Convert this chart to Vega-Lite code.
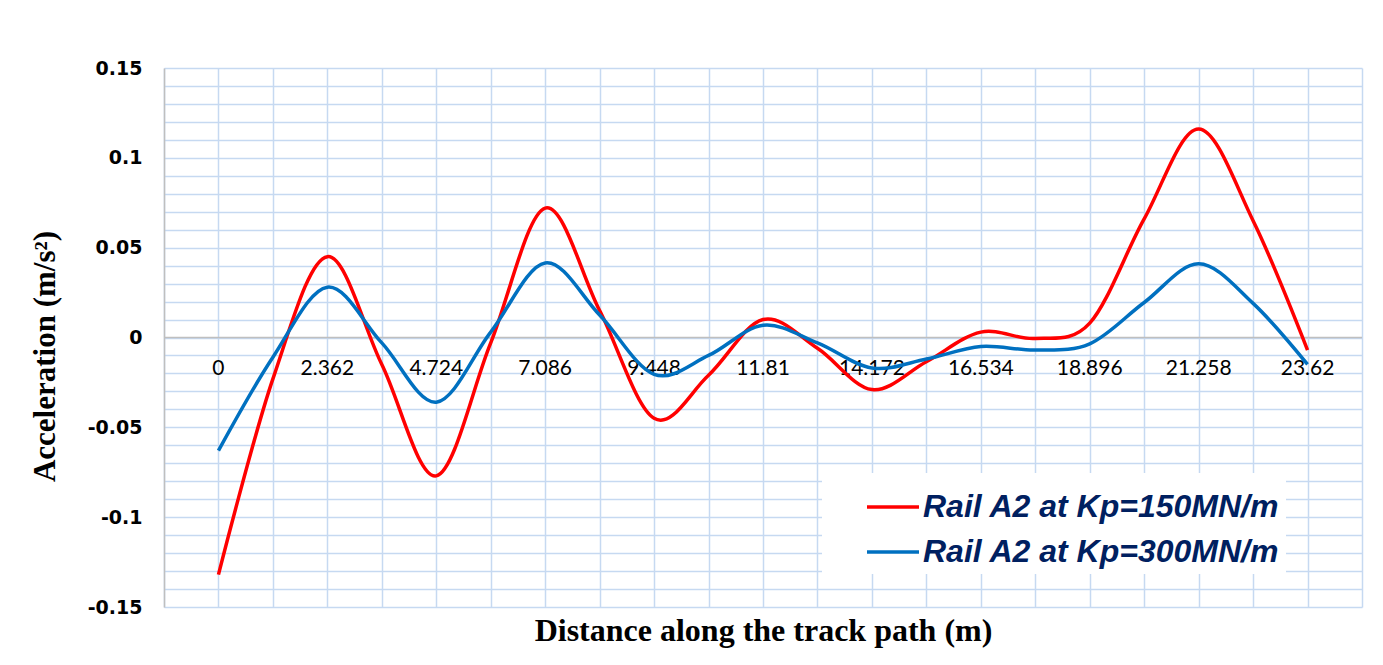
{
  "$schema": "https://vega.github.io/schema/vega-lite/v6.json",
  "autosize": {"type": "none"},
  "width": 1198,
  "height": 539,
  "padding": {"left": 164, "top": 68, "right": 21, "bottom": 58},
  "background": "white",
  "config": {"view": {"stroke": null}},
  "resolve": {"axis": {"x": "independent", "y": "independent"}},
  "datasets": {
    "series": [
      {"x": 0, "a": -0.132, "s": "Rail A2 at Kp=150MN/m"},
      {"x": 1.181, "a": -0.023, "s": "Rail A2 at Kp=150MN/m"},
      {"x": 2.362, "a": 0.045, "s": "Rail A2 at Kp=150MN/m"},
      {"x": 3.543, "a": -0.015, "s": "Rail A2 at Kp=150MN/m"},
      {"x": 4.724, "a": -0.077, "s": "Rail A2 at Kp=150MN/m"},
      {"x": 5.905, "a": -0.003, "s": "Rail A2 at Kp=150MN/m"},
      {"x": 7.086, "a": 0.072, "s": "Rail A2 at Kp=150MN/m"},
      {"x": 8.267, "a": 0.015, "s": "Rail A2 at Kp=150MN/m"},
      {"x": 9.448, "a": -0.045, "s": "Rail A2 at Kp=150MN/m"},
      {"x": 10.629, "a": -0.021, "s": "Rail A2 at Kp=150MN/m"},
      {"x": 11.81, "a": 0.010, "s": "Rail A2 at Kp=150MN/m"},
      {"x": 12.991, "a": -0.006, "s": "Rail A2 at Kp=150MN/m"},
      {"x": 14.172, "a": -0.029, "s": "Rail A2 at Kp=150MN/m"},
      {"x": 15.353, "a": -0.0135, "s": "Rail A2 at Kp=150MN/m"},
      {"x": 16.534, "a": 0.003, "s": "Rail A2 at Kp=150MN/m"},
      {"x": 17.715, "a": -0.0005, "s": "Rail A2 at Kp=150MN/m"},
      {"x": 18.896, "a": 0.008, "s": "Rail A2 at Kp=150MN/m"},
      {"x": 20.077, "a": 0.066, "s": "Rail A2 at Kp=150MN/m"},
      {"x": 21.258, "a": 0.116, "s": "Rail A2 at Kp=150MN/m"},
      {"x": 22.439, "a": 0.065, "s": "Rail A2 at Kp=150MN/m"},
      {"x": 23.62, "a": -0.007, "s": "Rail A2 at Kp=150MN/m"},
      {"x": 0, "a": -0.063, "s": "Rail A2 at Kp=300MN/m"},
      {"x": 1.181, "a": -0.011, "s": "Rail A2 at Kp=300MN/m"},
      {"x": 2.362, "a": 0.028, "s": "Rail A2 at Kp=300MN/m"},
      {"x": 3.543, "a": -0.003, "s": "Rail A2 at Kp=300MN/m"},
      {"x": 4.724, "a": -0.036, "s": "Rail A2 at Kp=300MN/m"},
      {"x": 5.905, "a": 0.003, "s": "Rail A2 at Kp=300MN/m"},
      {"x": 7.086, "a": 0.0415, "s": "Rail A2 at Kp=300MN/m"},
      {"x": 8.267, "a": 0.0125, "s": "Rail A2 at Kp=300MN/m"},
      {"x": 9.448, "a": -0.0205, "s": "Rail A2 at Kp=300MN/m"},
      {"x": 10.629, "a": -0.010, "s": "Rail A2 at Kp=300MN/m"},
      {"x": 11.81, "a": 0.0068, "s": "Rail A2 at Kp=300MN/m"},
      {"x": 12.991, "a": -0.003, "s": "Rail A2 at Kp=300MN/m"},
      {"x": 14.172, "a": -0.017, "s": "Rail A2 at Kp=300MN/m"},
      {"x": 15.353, "a": -0.012, "s": "Rail A2 at Kp=300MN/m"},
      {"x": 16.534, "a": -0.005, "s": "Rail A2 at Kp=300MN/m"},
      {"x": 17.715, "a": -0.007, "s": "Rail A2 at Kp=300MN/m"},
      {"x": 18.896, "a": -0.0035, "s": "Rail A2 at Kp=300MN/m"},
      {"x": 20.077, "a": 0.0195, "s": "Rail A2 at Kp=300MN/m"},
      {"x": 21.258, "a": 0.041, "s": "Rail A2 at Kp=300MN/m"},
      {"x": 22.439, "a": 0.019, "s": "Rail A2 at Kp=300MN/m"},
      {"x": 23.62, "a": -0.015, "s": "Rail A2 at Kp=300MN/m"}
    ],
    "labels": [
      {"x": 0, "label": "0"},
      {"x": 2.362, "label": "2.362"},
      {"x": 4.724, "label": "4.724"},
      {"x": 7.086, "label": "7.086"},
      {"x": 9.448, "label": "9.448"},
      {"x": 11.81, "label": "11.81"},
      {"x": 14.172, "label": "14.172"},
      {"x": 16.534, "label": "16.534"},
      {"x": 18.896, "label": "18.896"},
      {"x": 21.258, "label": "21.258"},
      {"x": 23.62, "label": "23.62"}
    ]
  },
  "layer": [
    {
      "data": {"name": "series"},
      "mark": {"type": "line", "interpolate": "cardinal", "strokeWidth": 3.5, "opacity": 0},
      "encoding": {
        "x": {
          "field": "x",
          "type": "quantitative",
          "scale": {"domain": [-1.181, 24.801], "nice": false, "zero": false},
          "axis": {
            "title": "Distance along the track path (m)",
            "values": [-1.181, 0, 1.181, 2.362, 3.543, 4.724, 5.905, 7.086, 8.267, 9.448, 10.629, 11.81, 12.991, 14.172, 15.353, 16.534, 17.715, 18.896, 20.077, 21.258, 22.439, 23.62, 24.801],
            "labels": false,
            "ticks": false,
            "domain": false,
            "grid": true,
            "gridColor": "#C6D9F1",
            "gridWidth": 1.5,
            "titleFont": "Liberation Serif",
            "titleFontSize": 32,
            "titleFontWeight": "bold",
            "titleColor": "black",
            "titlePadding": 8
          }
        },
        "y": {
          "field": "a",
          "type": "quantitative",
          "scale": {"domain": [-0.15, 0.15], "nice": false, "zero": false},
          "axis": {
            "title": "Acceleration (m/s²)",
            "titleFont": "Liberation Serif",
            "titleFontSize": 31,
            "titleFontWeight": "bold",
            "titleColor": "black",
            "titleX": -119,
            "titleY": 288,
            "titleBaseline": "middle",
            "values": [-0.15, -0.14, -0.13, -0.12, -0.11, -0.1, -0.09, -0.08, -0.07, -0.06, -0.05, -0.04, -0.03, -0.02, -0.01, 0, 0.01, 0.02, 0.03, 0.04, 0.05, 0.06, 0.07, 0.08, 0.09, 0.1, 0.11, 0.12, 0.13, 0.14, 0.15],
            "labelExpr": "indexof([-0.15, -0.1, -0.05, 0, 0.05, 0.1, 0.15], datum.value) >= 0 ? '' + datum.value : ''",
            "labelOverlap": false,
            "labelFont": "DejaVu Sans",
            "labelFontSize": 19,
            "labelFontWeight": "bold",
            "labelColor": "black",
            "labelPadding": 22,
            "ticks": false,
            "domainColor": "#BFBFBF",
            "domainWidth": 1.5,
            "grid": true,
            "gridColor": "#C6D9F1",
            "gridWidth": 1.5
          }
        }
      }
    },
    {
      "data": {"values": [{}]},
      "mark": {"type": "rule", "color": "#BFBFBF", "strokeWidth": 1.5},
      "encoding": {"y": {"datum": 0, "type": "quantitative", "axis": null}}
    },
    {
      "data": {"name": "labels"},
      "mark": {"type": "text", "font": "Lato", "fontSize": 21, "color": "black", "baseline": "middle", "align": "center", "dy": 31},
      "encoding": {
        "x": {"field": "x", "type": "quantitative", "axis": null},
        "y": {"datum": 0, "type": "quantitative", "axis": null},
        "text": {"field": "label", "type": "nominal"}
      }
    },
    {
      "data": {"name": "series"},
      "mark": {"type": "line", "interpolate": "cardinal", "strokeWidth": 3.5},
      "encoding": {
        "x": {"field": "x", "type": "quantitative", "axis": null},
        "y": {"field": "a", "type": "quantitative", "axis": null},
        "color": {
          "field": "s",
          "type": "nominal",
          "scale": {"domain": ["Rail A2 at Kp=150MN/m", "Rail A2 at Kp=300MN/m"], "range": ["#FF0000", "#0070C0"]},
          "legend": {
            "orient": "none",
            "legendX": 658,
            "legendY": 405,
            "title": null,
            "fillColor": "white",
            "padding": 6,
            "symbolType": "stroke",
            "symbolSize": 2704,
            "symbolStrokeWidth": 3.5,
            "symbolOffset": 37,
            "labelOffset": 2,
            "labelFont": "Liberation Sans",
            "labelFontSize": 32,
            "labelFontWeight": "bold",
            "labelFontStyle": "italic",
            "labelColor": "#002060",
            "labelLimit": 0,
            "rowPadding": 1
          }
        }
      }
    }
  ]
}
